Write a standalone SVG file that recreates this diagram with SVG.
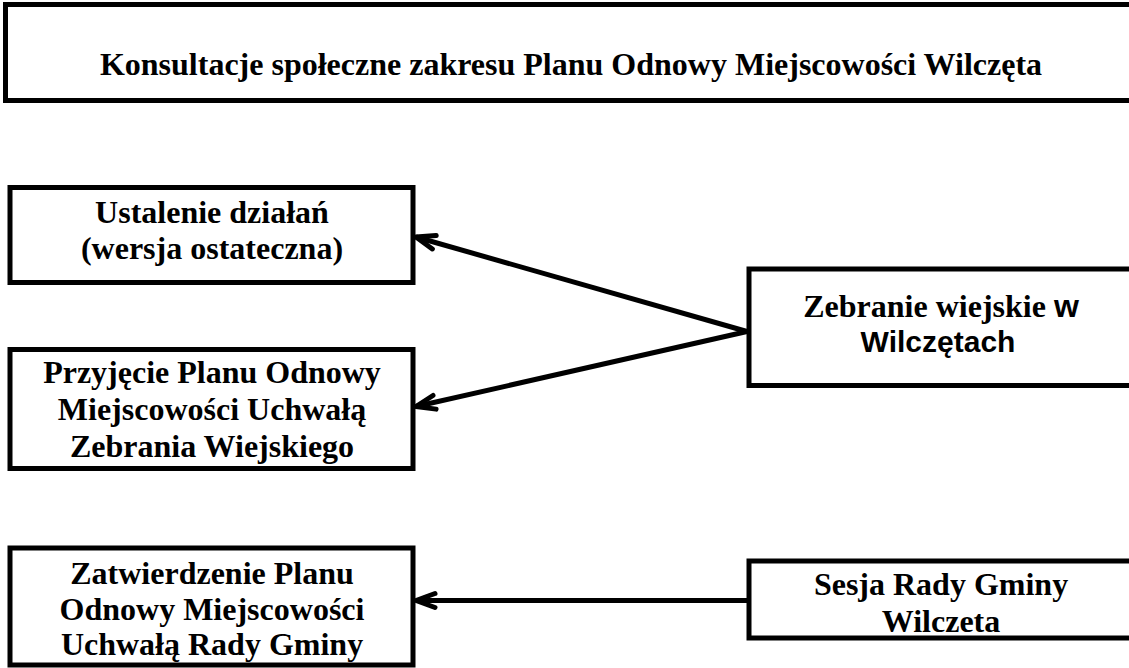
<svg xmlns="http://www.w3.org/2000/svg" width="1129" height="668" viewBox="0 0 1129 668">
  <style>
    .box { fill: #ffffff; stroke: #000000; stroke-width: 5; }
    .t { font-family: "Liberation Serif", "Times New Roman", serif; font-weight: bold; font-size: 32px; fill: #000000; text-anchor: middle; }
    .s { font-family: "Liberation Sans", Arial, sans-serif; font-weight: bold; }
    .conn { stroke: #000000; stroke-width: 5; fill: none; marker-end: url(#arr); }
  </style>
  <defs>
    <marker id="arr" markerUnits="userSpaceOnUse" viewBox="-25 -12 30 24" refX="0" refY="0" markerWidth="30" markerHeight="24" orient="auto" overflow="visible">
      <path d="M -19 -7 L 0 0 L -19 7" fill="none" stroke="#000000" stroke-width="5" stroke-linecap="round" stroke-linejoin="round"/>
    </marker>
  </defs>
  <rect width="1129" height="668" fill="#ffffff"/>

  <g id="title">
    <rect class="box" x="5.5" y="4.5" width="1140" height="96"/>
    <text class="t" x="571" y="75">Konsultacje społeczne zakresu Planu Odnowy Miejscowości Wilczęta</text>
  </g>

  <g id="ustalenie">
    <rect class="box" x="10" y="187.5" width="403" height="95"/>
    <text class="t" x="212" y="223">Ustalenie działań</text>
    <text class="t" x="212" y="259">(wersja ostateczna)</text>
  </g>

  <g id="przyjecie">
    <rect class="box" x="10" y="349.5" width="403" height="119"/>
    <text class="t" x="212" y="383">Przyjęcie Planu Odnowy</text>
    <text class="t" x="212" y="420">Miejscowości Uchwałą</text>
    <text class="t" x="212" y="457">Zebrania Wiejskiego</text>
  </g>

  <g id="zatwierdzenie">
    <rect class="box" x="10" y="548" width="403" height="117"/>
    <text class="t" x="212" y="584">Zatwierdzenie Planu</text>
    <text class="t" x="212" y="620">Odnowy Miejscowości</text>
    <text class="t" x="212" y="655">Uchwałą Rady Gminy</text>
  </g>

  <g id="zebranie">
    <rect class="box" x="749" y="269" width="390" height="116.5"/>
    <text class="t" x="941" y="317">Zebranie wiejskie <tspan class="s">w</tspan></text>
    <text class="t s" x="938" y="352" style="font-size:30px">Wilczętach</text>
  </g>

  <g id="sesja">
    <rect class="box" x="749" y="561" width="390" height="77"/>
    <text class="t" x="941" y="595">Sesja Rady Gminy</text>
    <text class="t" x="941" y="632">Wilczeta</text>
  </g>

  <g id="connectors">
    <line class="conn" x1="747" y1="331.5" x2="416" y2="237"/>
    <line class="conn" x1="747" y1="331.5" x2="416" y2="406.5"/>
    <line class="conn" x1="747" y1="600.5" x2="416" y2="600.5"/>
  </g>
</svg>
